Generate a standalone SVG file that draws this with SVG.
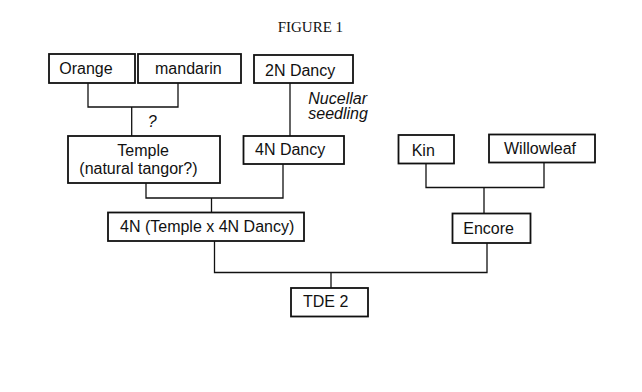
<svg xmlns="http://www.w3.org/2000/svg" width="642" height="392" viewBox="0 0 642 392">
<style>
.box{fill:#fff;stroke:#111;stroke-width:1.8}
.lbl{font-family:"Liberation Sans",Arial,sans-serif;font-size:16px;fill:#111}
.it{font-style:italic}
.con{fill:none;stroke:#111;stroke-width:1.3}
.title{font-family:"Liberation Serif","Times New Roman",serif;font-size:15px;fill:#111}
</style>
<rect width="642" height="392" fill="#fff"/>
<text class="title" x="277.7" y="32.3">FIGURE 1</text>
<g id="connectors">
<path class="con" d="M88,83 V107 H178 V83 M131.7,107 V136"/>
<path class="con" d="M290,83 V136"/>
<path class="con" d="M146,183 V198 H283 V164 M211.5,198 V212.5"/>
<path class="con" d="M426,163.5 V187.5 H544 V162.5 M484,187.5 V213.5"/>
<path class="con" d="M214.5,241 V272.5 H487 V243 M331,272.5 V288"/>
<text class="lbl it" x="147.7" y="127.3">?</text>
<text class="lbl it" x="308.3" y="103.5">Nucellar</text>
<text class="lbl it" x="308.3" y="119">seedling</text>
</g>
<g id="orange"><rect class="box" x="49" y="54" width="86" height="29"/><text class="lbl" x="59.3" y="73.5">Orange</text></g>
<g id="mandarin"><rect class="box" x="138" y="54" width="103" height="29"/><text class="lbl" x="155" y="73.5">mandarin</text></g>
<g id="dancy2n"><rect class="box" x="254" y="55" width="99" height="28"/><text class="lbl" x="265" y="75.5">2N Dancy</text></g>
<g id="temple"><rect class="box" x="68" y="136" width="152" height="47"/><text class="lbl" x="117.3" y="156">Temple</text><text class="lbl" x="79.3" y="174">(natural tangor?)</text></g>
<g id="dancy4n"><rect class="box" x="243.5" y="136" width="100.5" height="28"/><text class="lbl" x="255" y="155">4N Dancy</text></g>
<g id="kin"><rect class="box" x="398.5" y="135" width="55.5" height="28.5"/><text class="lbl" x="411.7" y="155.5">Kin</text></g>
<g id="willowleaf"><rect class="box" x="489" y="134.5" width="106" height="28"/><text class="lbl" x="504" y="153.5">Willowleaf</text></g>
<g id="cross4n"><rect class="box" x="108" y="212.5" width="196" height="28.5"/><text class="lbl" x="120" y="232.3">4N (Temple x 4N Dancy)</text></g>
<g id="encore"><rect class="box" x="452.5" y="213.5" width="78" height="29.5"/><text class="lbl" x="463.3" y="234">Encore</text></g>
<g id="tde2"><rect class="box" x="291" y="288" width="77" height="28.5"/><text class="lbl" x="303" y="307">TDE 2</text></g>
</svg>
